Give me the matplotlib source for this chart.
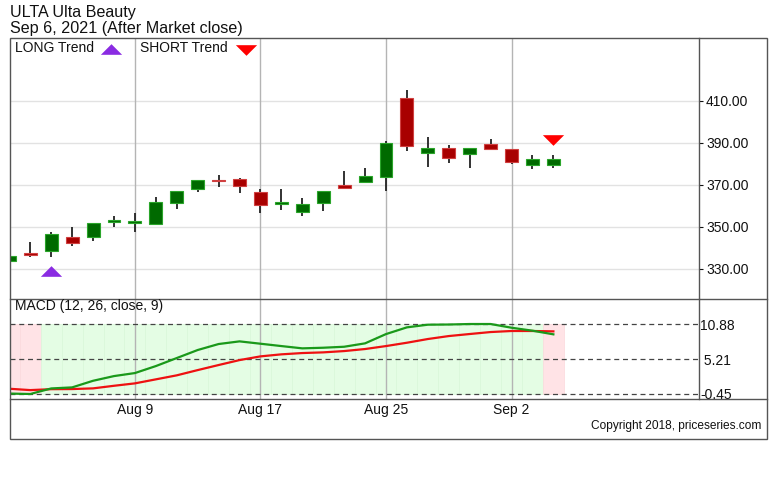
import matplotlib
matplotlib.use('Agg')
import matplotlib.pyplot as plt
from matplotlib.lines import Line2D
from matplotlib.patches import Rectangle, Polygon

plt.rcParams['font.family'] = ['Liberation Sans', 'DejaVu Sans']

# ---------------- data ----------------
dates = ['Jul 30', 'Aug 2', 'Aug 3', 'Aug 4', 'Aug 5', 'Aug 6',
         'Aug 9', 'Aug 10', 'Aug 11', 'Aug 12', 'Aug 13',
         'Aug 16', 'Aug 17', 'Aug 18', 'Aug 19', 'Aug 20',
         'Aug 23', 'Aug 24', 'Aug 25', 'Aug 26', 'Aug 27',
         'Aug 30', 'Aug 31', 'Sep 1', 'Sep 2', 'Sep 3', 'Sep 6']
opens = [333.8, 337.6, 338.4, 345.2, 345.2, 352.6, 352.0, 351.4, 361.6, 368.2, 372.5,
         372.9, 366.7, 360.9, 357.1, 361.3, 370.0, 371.3, 374.0, 411.4, 385.2,
         387.6, 384.6, 389.5, 387.1, 379.5, 379.6]
highs = [342.7, 342.7, 347.5, 350.0, 352.0, 355.2, 356.8, 364.3, 367.3, 372.6, 374.8,
         373.3, 368.2, 368.1, 363.8, 367.3, 376.7, 378.1, 390.8, 415.1, 392.7,
         388.9, 387.7, 392.0, 387.2, 384.3, 384.3]
lows = [332.7, 335.9, 335.9, 341.1, 343.5, 350.0, 347.5, 351.1, 358.7, 366.8, 369.0,
        366.3, 356.5, 358.0, 355.4, 357.8, 368.6, 371.2, 367.3, 386.0, 378.6,
        380.5, 378.3, 386.7, 379.8, 377.6, 377.9]
closes = [336.2, 336.7, 346.7, 342.4, 351.9, 353.2, 352.8, 361.9, 367.1, 372.4, 371.9,
          369.5, 360.6, 361.7, 361.0, 367.1, 368.8, 374.3, 390.0, 388.7, 387.6,
          383.0, 387.6, 387.2, 381.1, 382.4, 382.3]

macd = [-0.38, -0.45, 0.45, 0.62, 1.69, 2.45, 2.94, 4.07, 5.37, 6.67, 7.64,
        8.07, 7.69, 7.31, 6.94, 7.04, 7.20, 7.75, 9.25, 10.34, 10.77,
        10.80, 10.88, 10.88, 10.28, 9.80, 9.21]
signal = [0.40, 0.18, 0.33, 0.35, 0.46, 0.88, 1.27, 1.92, 2.57, 3.42, 4.24,
          5.04, 5.64, 5.97, 6.18, 6.29, 6.50, 6.83, 7.31, 7.85, 8.45,
          8.93, 9.26, 9.58, 9.75, 9.75, 9.69]
macd_levels = [-0.45, 5.21, 10.88]
macd_level_labels = ['-0.45', ' 5.21', '10.88']

price_ticks = [330, 350, 370, 390, 410]
price_tick_labels = ['330.00', '350.00', '370.00', '390.00', '410.00']
date_ticks = ['Aug 9', 'Aug 17', 'Aug 25', 'Sep 2']

long_signal_date = 'Aug 3'
long_signal_price = 329.0
short_signal_date = 'Sep 6'
short_signal_price = 391.2

# ---------------- layout ----------------
W, H = 780, 500
fig = plt.figure(figsize=(W / 100, H / 100), dpi=100)

def fx(px):
    return px / W

def fy(py):
    return 1 - py / H

L, R = 10, 699
ax = fig.add_axes([fx(L), fy(299), fx(R - L), (299 - 38) / H])
axm = fig.add_axes([fx(L), fy(399), fx(R - L), (399 - 299) / H])

xs = list(range(len(dates)))
date_idx = [dates.index(d) for d in date_ticks]
xlim = (0.03, 32.96)

# outer frame
fig.add_artist(Rectangle((fx(10), fy(439)), fx(767 - 10), (439 - 38) / H,
                         transform=fig.transFigure, fill=False,
                         edgecolor='#555555', lw=1.0))
for yy in (299, 399):
    fig.add_artist(Line2D([fx(10), fx(767)], [fy(yy), fy(yy)],
                          transform=fig.transFigure, color='#555555', lw=1.0))

# ---------------- price panel ----------------
ax.set_xlim(*xlim)
ax.set_ylim(315.7, 440)
for p in price_ticks:
    ax.axhline(p, color='#e2e2e2', lw=1.0, zorder=0)
for i in date_idx:
    ax.axvline(i, color='#b4b4b4', lw=1.0, zorder=0.5)

ax.vlines(xs, lows, highs, color='#222222', lw=1.3, zorder=2)
up_face, up_edge = '#006a00', '#2aa52a'
dn_face, dn_edge = '#a80000', '#d04040'
for i in xs:
    o, c = opens[i], closes[i]
    up = c >= o
    ax.bar(i, abs(c - o), bottom=min(o, c), width=0.62,
           color=up_face if up else dn_face,
           edgecolor=up_edge if up else dn_edge, lw=0.8, zorder=3)

tri_up = [(-1, -0.5), (1, -0.5), (0, 0.5)]
tri_dn = [(-1, 0.5), (1, 0.5), (0, -0.5)]
ax.plot(dates.index(long_signal_date), long_signal_price, marker=tri_up,
        markersize=15.3, color='#8a2be2', mec='none', zorder=4, clip_on=False)
ax.plot(dates.index(short_signal_date), short_signal_price, marker=tri_dn,
        markersize=15.3, color='#ff0000', mec='none', zorder=4, clip_on=False)

ax.yaxis.tick_right()
ax.set_yticks(price_ticks)
ax.set_yticklabels(price_tick_labels)
ax.tick_params(axis='y', direction='out', length=3, width=0.8, pad=2,
               labelsize=10, colors='#111111')
ax.tick_params(axis='x', bottom=False, labelbottom=False)
for s in ax.spines.values():
    s.set_color('#555555')
    s.set_linewidth(1.0)
ax.spines['bottom'].set_visible(False)
ax.spines['top'].set_visible(False)
ax.spines['left'].set_visible(False)

# legend in price panel
fig.text(fx(15), fy(48), 'LONG Trend', fontsize=10, va='center', ha='left', color='#111111')
fig.text(fx(140), fy(48), 'SHORT Trend', fontsize=10, va='center', ha='left', color='#111111')
fig.add_artist(Line2D([fx(110.5)], [fy(49)], transform=fig.transFigure, marker=tri_up,
                      markersize=15.3, color='#8a2be2', mec='none', ls='none'))
fig.add_artist(Line2D([fx(245.5)], [fy(49.5)], transform=fig.transFigure, marker=tri_dn,
                      markersize=15.3, color='#ff0000', mec='none', ls='none'))

# titles
fig.text(fx(10), fy(12.5), 'ULTA Ulta Beauty', fontsize=11.6, va='center', ha='left', color='#111111')
fig.text(fx(10), fy(28), 'Sep 6, 2021 (After Market close)', fontsize=11.6, va='center', ha='left', color='#111111')

# ---------------- MACD panel ----------------
axm.set_xlim(*xlim)
axm.set_ylim(-1.26, 14.93)
lo, hi = min(macd_levels), max(macd_levels)
for i in xs:
    bull = macd[i] >= signal[i]
    axm.bar(i, hi - lo, bottom=lo, width=1.0,
            color='#e4fde4' if bull else '#ffe3e6',
            edgecolor='#d9f8d9' if bull else '#fbd9dc', lw=0.5, zorder=0)
for i in date_idx:
    axm.axvline(i, color='#b4b4b4', lw=1.0, zorder=0.5)
for lv in macd_levels:
    axm.axhline(lv, color='#444444', lw=0.9, ls=(0, (4, 3)), zorder=1)
axm.plot(xs, signal, color='#ee1111', lw=1.6, zorder=3)
axm.plot(xs, macd, color='#1a991a', lw=1.6, zorder=3)

axm.yaxis.tick_right()
axm.set_yticks(macd_levels)
axm.set_yticklabels(macd_level_labels)
axm.tick_params(axis='y', length=0, pad=1.0, labelsize=10, colors='#111111')
axm.set_xticks(date_idx)
axm.set_xticklabels(date_ticks)
axm.tick_params(axis='x', length=0, pad=3, labelsize=10, colors='#111111')
for s in axm.spines.values():
    s.set_color('#555555')
    s.set_linewidth(1.0)
axm.spines['bottom'].set_visible(False)
axm.spines['top'].set_visible(False)
axm.spines['left'].set_visible(False)

fig.text(fx(15), fy(306), 'MACD (12, 26, close, 9)', fontsize=10, va='center', ha='left', color='#111111')
fig.text(fx(761), fy(426.5), 'Copyright 2018, priceseries.com', fontsize=8.6,
         va='center', ha='right', color='#111111')

fig.savefig('out.png', dpi=100)
